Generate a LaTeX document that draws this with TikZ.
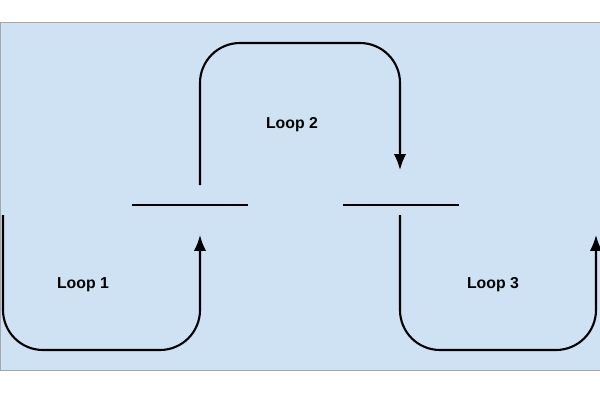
\documentclass[tikz,border=0pt]{standalone}
\usepackage{fontspec}
\setsansfont{Liberation Sans}
\usetikzlibrary{arrows.meta,positioning}
\tikzset{
  loop/.style={line width=1.2pt,rounded corners=40*\px},
  arrow/.style={loop,-{Latex[length=9pt,width=7pt]}},
  bar/.style={line width=1.2pt},
  label/.style={font=\sffamily\bfseries\small}
}
\newcommand{\px}{0.02cm}
\begin{document}
\begin{tikzpicture}[x=\px,y=-\px]
  \useasboundingbox (0,0) rectangle (600,400);
  \fill[white] (0,0) rectangle (600,400);
  \draw[fill={rgb,255:red,207;green,226;blue,243},draw=gray!70] (0,22) rectangle (600,370);
  % platforms
  \draw[bar] (132,205) -- (248,205);
  \draw[bar] (343,205) -- (459,205);
  % loop 1
  \draw[arrow] (3,215) -- (3,350) -- (200,350) -- (200,235);
  % loop 2
  \draw[arrow] (200,185) -- (200,43) -- (400,43) -- (400,170);
  % loop 3
  \draw[arrow] (400,215) -- (400,350) -- (596,350) -- (596,235);
  \node[label] (l1) at (83,285) {Loop 1};
  \node[label] (l2) at (292,125) {Loop 2};
  \node[label] (l3) at (493,285) {Loop 3};
\end{tikzpicture}
\end{document}
